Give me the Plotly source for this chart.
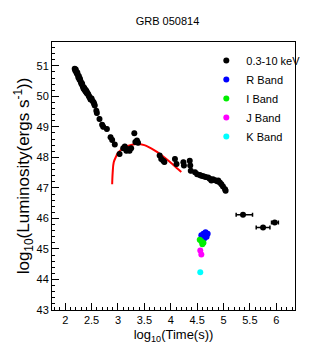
import plotly.graph_objects as go

# X-ray (0.3-10 keV) light curve, log10 time and log10 luminosity
xray_t = [2.18, 2.19, 2.20, 2.21, 2.22, 2.23, 2.24, 2.25, 2.26, 2.27, 2.28, 2.29, 2.30, 2.31,
          2.32, 2.33, 2.34, 2.35, 2.36, 2.37, 2.38, 2.39, 2.40, 2.41, 2.42, 2.43, 2.44, 2.45,
          2.46, 2.47, 2.48, 2.50, 2.52, 2.54, 2.55, 2.56,
          2.59, 2.60, 2.65, 2.70, 2.72, 2.79, 2.86, 2.89, 2.94, 3.03, 3.10, 3.13, 3.16, 3.19,
          3.22, 3.25, 3.31, 3.33, 3.36, 3.38, 3.79, 3.82, 3.86, 3.88, 4.08, 4.11, 4.24, 4.25,
          4.36, 4.37, 4.38, 4.46, 4.50, 4.55, 4.58, 4.62, 4.66, 4.71, 4.74, 4.77, 4.80, 4.84,
          4.88, 4.90, 4.93, 4.96, 4.99, 5.03, 5.04]
xray_L = [50.90, 50.85, 50.88, 50.80, 50.75, 50.78, 50.70, 50.62, 50.66, 50.55, 50.58, 50.50,
          50.45, 50.40, 50.42, 50.35, 50.30, 50.25, 50.28, 50.20, 50.22, 50.15, 50.18, 50.10,
          50.12, 50.08, 50.05, 50.00, 49.98, 49.95, 49.90, 49.93, 49.85, 49.80, 49.75, 49.70,
          49.53, 49.45, 49.26, 49.07, 49.00, 48.93, 48.66, 48.57, 48.42, 48.11, 48.30, 48.36,
          48.22, 48.27, 48.22, 48.30, 48.79, 48.50, 48.55, 48.48, 48.06, 47.95, 47.89, 47.85,
          47.95, 47.78, 47.84, 47.73, 47.89, 47.73, 47.56, 47.51, 47.45, 47.42, 47.40, 47.38,
          47.36, 47.34, 47.30, 47.24, 47.28, 47.25, 47.22, 47.24, 47.18, 47.12, 47.05, 46.96,
          46.91]

# Late X-ray points with time-bin error bars
late_t = [5.37, 5.75, 5.97]
late_L = [46.12, 45.70, 45.87]
late_t_minus = [0.13, 0.13, 0.06]
late_t_plus = [0.18, 0.13, 0.07]

# Optical / NIR bands
R_t = [4.58, 4.62, 4.66, 4.68, 4.64, 4.60, 4.70]
R_L = [45.45, 45.50, 45.55, 45.40, 45.35, 45.30, 45.50]
I_t = [4.55, 4.58, 4.62, 4.60]
I_L = [45.30, 45.25, 45.20, 45.15]
J_t = [4.56, 4.58]
J_L = [44.95, 44.82]
K_t = [4.56]
K_L = [44.24]

# Red model curve
model_t = [2.89, 2.90, 2.92, 2.97, 3.00, 3.10, 3.20, 3.35, 3.50, 3.70, 3.90, 4.05, 4.20]
model_L = [47.12, 47.50, 47.84, 48.05, 48.15, 48.30, 48.38, 48.44, 48.40, 48.22, 47.97, 47.75, 47.52]

FONT = "Liberation Sans, Arial, Helvetica"

fig = go.Figure()
fig.add_trace(go.Scatter(x=model_t, y=model_L, mode="lines", line=dict(color="#ff0000", width=2, shape="spline"),
                         showlegend=False))
fig.add_trace(go.Scatter(x=xray_t, y=xray_L, mode="markers", name="0.3-10 keV",
                         marker=dict(color="black", size=6),
                         error_y=dict(type="constant", value=0.08, color="black", thickness=2.5, width=0)))
fig.add_trace(go.Scatter(x=late_t, y=late_L, mode="markers", showlegend=False,
                         marker=dict(color="black", size=6),
                         error_x=dict(type="data", array=late_t_plus, arrayminus=late_t_minus,
                                      color="black", thickness=1.5, width=2),
                         error_y=dict(type="constant", value=0.07, color="black", thickness=2, width=0)))
for name, t, L, c in [("R Band", R_t, R_L, "#0000ff"), ("I Band", I_t, I_L, "#00ee00"),
                      ("J Band", J_t, J_L, "#ff00ff"), ("K Band", K_t, K_L, "#00ffff")]:
    fig.add_trace(go.Scatter(x=t, y=L, mode="markers", name=name,
                             marker=dict(color=c, size=6),
                             error_y=dict(type="constant", value=0.06, color=c, thickness=2.5, width=0)))

fig.update_layout(
    width=319, height=354,
    margin=dict(l=44, r=32, t=34, b=52),
    paper_bgcolor="white", plot_bgcolor="white",
    font=dict(family=FONT, size=11, color="black"),
    title=dict(text="GRB 050814", x=0.5, xref="container", xanchor="center",
               y=1 - 13 / 354, yref="container", yanchor="middle", font=dict(size=11, family=FONT)),
    legend=dict(x=0.635, y=0.985, xanchor="left", yanchor="top", bgcolor="rgba(255,255,255,0)",
                font=dict(size=11, family=FONT), itemwidth=30, tracegroupgap=0),
    showlegend=True,
)
fig.update_xaxes(range=[1.75, 6.355], showline=True, linecolor="black", linewidth=1, mirror=True,
                 ticks="inside", ticklen=7, tickcolor="black", dtick=0.5, tick0=2, showgrid=False, zeroline=False,
                 tickfont=dict(size=11, family=FONT),
                 minor=dict(ticks="inside", ticklen=3, dtick=0.1, tickcolor="black"),
                 title=dict(text="log<sub>10</sub>(Time(s))", font=dict(size=13, family=FONT), standoff=4))
fig.update_yaxes(range=[43, 51.78], showline=True, linecolor="black", linewidth=1, mirror=True,
                 ticks="inside", ticklen=7, tickcolor="black", dtick=1, tick0=43, showgrid=False, zeroline=False,
                 tickfont=dict(size=11, family=FONT),
                 minor=dict(ticks="inside", ticklen=3, dtick=0.2, tickcolor="black"),
                 title=dict(text="log<sub>10</sub>(Luminosity(ergs s<sup>-1</sup>))", font=dict(size=17, family=FONT), standoff=2))

fig.write_html("out.html")
